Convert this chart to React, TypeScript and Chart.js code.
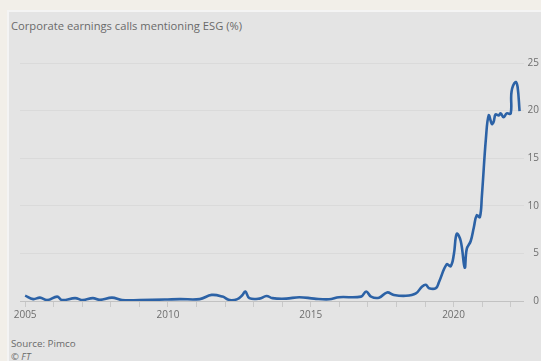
import React, { useEffect, useRef } from "react";
import { Chart, registerables } from "chart.js";

Chart.register(...registerables);

const title = "Corporate earnings calls mentioning ESG (%)";
const source = "Source: Pimco";
const credit = "© FT";

const years = [
  2005.0, 2005.28, 2005.52, 2005.77, 2006.12, 2006.29, 2006.75, 2007.02, 2007.37, 2007.62,
  2008.04, 2008.39, 2009.01, 2009.89, 2010.41, 2011.11, 2011.53, 2011.91, 2012.16, 2012.43,
  2012.6, 2012.71, 2012.85, 2013.2, 2013.45, 2013.66, 2014.14, 2014.6, 2015.12, 2015.64,
  2015.99, 2016.76, 2016.94, 2017.11, 2017.39, 2017.67, 2017.91, 2018.33, 2018.68, 2018.89,
  2019.03, 2019.14, 2019.38, 2019.49, 2019.76, 2019.9, 2020.01, 2020.11, 2020.25, 2020.39,
  2020.46, 2020.6, 2020.71, 2020.81, 2020.92, 2020.99, 2021.13, 2021.23, 2021.34, 2021.4,
  2021.47, 2021.58, 2021.65, 2021.75, 2021.86, 2022.0, 2022.03, 2022.17, 2022.24, 2022.31,
];
const values = [
  0.57, 0.2, 0.35, 0.1, 0.46, 0.1, 0.3, 0.1, 0.3, 0.12,
  0.35, 0.1, 0.1, 0.15, 0.2, 0.2, 0.64, 0.46, 0.1, 0.2,
  0.6, 1.0, 0.3, 0.25, 0.53, 0.3, 0.25, 0.4, 0.25, 0.18,
  0.4, 0.46, 1.0, 0.46, 0.35, 0.9, 0.64, 0.55, 0.8, 1.5,
  1.7, 1.35, 1.35, 2.0, 3.85, 3.66, 4.9, 7.05, 6.3, 3.5,
  5.45, 6.3, 7.75, 9.0, 8.8, 11, 17, 19.5, 18.6, 18.8,
  19.6, 19.5, 19.7, 19.3, 19.7, 19.7, 22.0, 23.0, 22.5, 19.95,
];
const labeledYears = [2005, 2010, 2015, 2020];
const yTicks = [0, 5, 10, 15, 20, 25];

const FONT = "'Open Sans', 'Noto Sans', sans-serif";

export default function App() {
  const ref = useRef<HTMLCanvasElement | null>(null);

  useEffect(() => {
    if (!ref.current) return;
    const chart = new Chart(ref.current, {
      type: "line",
      data: {
        datasets: [
          {
            data: years.map((x, i) => ({ x, y: values[i] })),
            borderColor: "#2c62a6",
            borderWidth: 2.6,
            pointRadius: 0,
            tension: 0.4,
            fill: false,
          },
        ],
      },
      options: {
        animation: false,
        responsive: false,
        devicePixelRatio: 1,
        layout: { padding: { left: 20, top: 63, right: 2, bottom: 38 } },
        plugins: { legend: { display: false }, tooltip: { enabled: false } },
        scales: {
          x: {
            type: "linear",
            min: 2004.82,
            max: 2022.45,
            border: { display: false },
            grid: { drawOnChartArea: false, tickLength: 6, color: "#c9c9c9" },
            ticks: {
              stepSize: 1,
              includeBounds: false,
              autoSkip: false,
              maxRotation: 0,
              padding: 2,
              color: "#6e6e6e",
              font: { family: FONT, size: 10 },
              callback: (v: any) => (labeledYears.includes(Number(v)) ? String(v) : ""),
            },
          },
          y: {
            position: "right",
            min: 0,
            max: 25,
            border: { display: false },
            grid: {
              drawTicks: false,
              color: (ctx: any) => (ctx.tick && ctx.tick.value === 0 ? "#c2c2c2" : "#dadada"),
            },
            afterBuildTicks: (axis: any) => {
              axis.ticks = yTicks.map((v) => ({ value: v }));
            },
            ticks: {
              padding: 2,
              crossAlign: "far",
              color: "#6e6e6e",
              font: { family: FONT, size: 10 },
            },
          },
        },
      },
    });
    return () => chart.destroy();
  }, []);

  return (
    <div
      style={{
        position: "fixed",
        left: 0,
        top: 0,
        width: 541,
        height: 361,
        background: "#f2efe9",
        overflow: "hidden",
        fontFamily: FONT,
      }}
    >
      <div
        style={{
          position: "absolute",
          left: 7,
          top: 10,
          right: 0,
          bottom: 0,
          background: "#e4e4e4",
          borderLeft: "2px solid #f4f4f4",
          borderTop: "2px solid #f4f4f4",
        }}
      />
      <div
        style={{
          position: "absolute",
          left: 11,
          top: 18,
          fontSize: 11.2,
          color: "#6a6a6a",
          whiteSpace: "nowrap",
        }}
      >
        {title}
      </div>
      <div style={{ position: "absolute", left: 11, top: 337, fontSize: 9.8, color: "#6a6a6a" }}>
        {source}
      </div>
      <div
        style={{
          position: "absolute",
          left: 11,
          top: 350,
          fontSize: 9.5,
          color: "#6a6a6a",
          fontStyle: "italic",
        }}
      >
        {credit}
      </div>
      <canvas
        ref={ref}
        width={541}
        height={361}
        style={{ position: "absolute", left: 0, top: 0, width: 541, height: 361 }}
      />
    </div>
  );
}
